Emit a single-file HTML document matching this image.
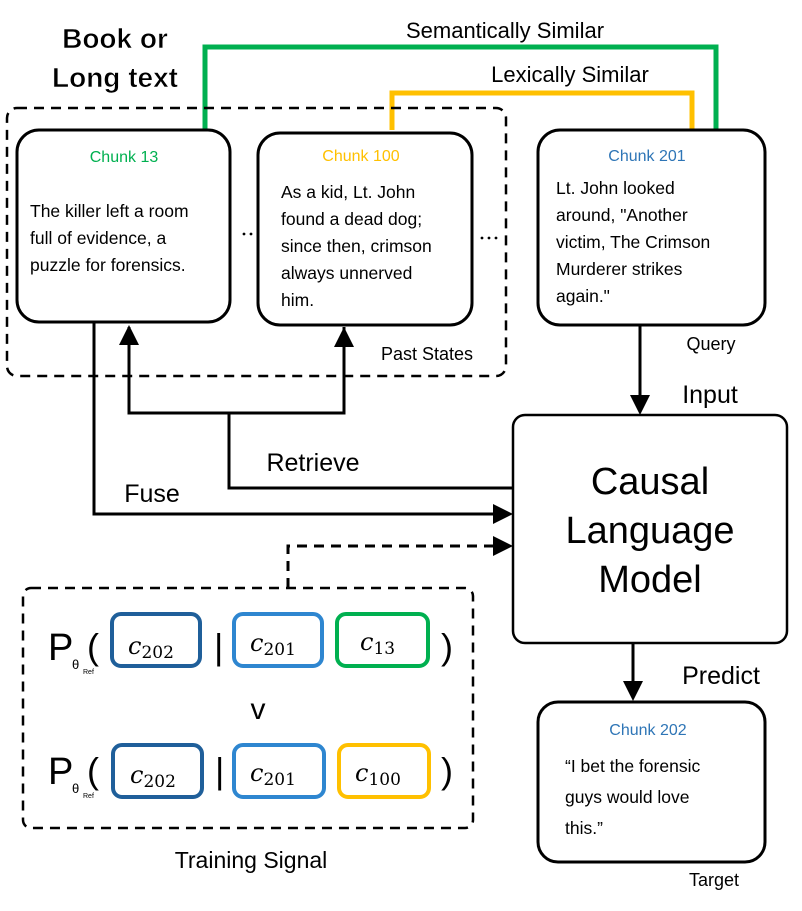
<!DOCTYPE html>
<html><head><meta charset="utf-8"><style>
html,body{margin:0;padding:0;background:#fff;}
svg{display:block;font-family:"Liberation Sans",sans-serif;}
</style></head><body>
<svg width="802" height="911" viewBox="0 0 802 911" xmlns="http://www.w3.org/2000/svg">
<!-- similarity lines -->
<polyline points="205,130 205,47 716,47 716,130" fill="none" stroke="#00b050" stroke-width="5"/>
<polyline points="392,130 392,93 692,93 692,130" fill="none" stroke="#ffc000" stroke-width="5"/>
<text x="505" y="38" font-size="22" text-anchor="middle" fill="#000">Semantically Similar</text>
<text x="570" y="82" font-size="22" text-anchor="middle" fill="#000">Lexically Similar</text>
<text x="115" y="48" font-size="28" text-anchor="middle" font-weight="bold" stroke="#fff" stroke-width="0.6">Book or</text>
<text x="115" y="87" font-size="28" text-anchor="middle" font-weight="bold" stroke="#fff" stroke-width="0.6">Long text</text>
<!-- outer dashed -->
<rect x="7" y="108" width="499" height="268" rx="10" fill="none" stroke="#000" stroke-width="2.5" stroke-dasharray="10,7"/>
<!-- chunk boxes -->
<rect x="17" y="130" width="213" height="192" rx="22" fill="#fff" stroke="#000" stroke-width="3"/>
<text x="124" y="162" font-size="16" fill="#00b050" text-anchor="middle">Chunk 13</text>
<g font-size="17.5"><text x="30" y="217">The killer left a room</text><text x="30" y="244">full of evidence, a</text><text x="30" y="271">puzzle for forensics.</text></g>
<rect x="258" y="133" width="214" height="192" rx="22" fill="#fff" stroke="#000" stroke-width="3"/>
<text x="361" y="161" font-size="16" fill="#ffc000" text-anchor="middle">Chunk 100</text>
<g font-size="17.5"><text x="281" y="198">As a kid, Lt. John</text><text x="281" y="225">found a dead dog;</text><text x="281" y="252">since then, crimson</text><text x="281" y="279">always unnerved</text><text x="281" y="306">him.</text></g>
<g fill="#000"><circle cx="244" cy="234" r="1.4"/><circle cx="251" cy="234" r="1.4"/><circle cx="258" cy="234" r="1.4"/>
<circle cx="482" cy="238" r="1.4"/><circle cx="489" cy="238" r="1.4"/><circle cx="496" cy="238" r="1.4"/></g>
<rect x="538" y="130" width="227" height="195" rx="22" fill="#fff" stroke="#000" stroke-width="3"/>
<text x="647" y="161" font-size="16" fill="#2e75b6" text-anchor="middle">Chunk 201</text>
<g font-size="17.5"><text x="556" y="194">Lt.  John looked</text><text x="556" y="221">around, "Another</text><text x="556" y="248">victim, The Crimson</text><text x="556" y="275">Murderer strikes</text><text x="556" y="302">again."</text></g>
<text x="427" y="360" font-size="18" text-anchor="middle">Past States</text>
<text x="711" y="350" font-size="18" text-anchor="middle">Query</text>
<!-- input arrow -->
<line x1="640" y1="325" x2="640" y2="398" stroke="#000" stroke-width="3"/>
<path d="M630,395 L640,415 L650,395 z"/>
<text x="710" y="403" font-size="25" text-anchor="middle">Input</text>
<!-- LLM -->
<rect x="513" y="415" width="274" height="228" rx="12" fill="#fff" stroke="#000" stroke-width="2.5"/>
<g font-size="38" text-anchor="middle"><text x="650" y="494">Causal</text><text x="650" y="543">Language</text><text x="650" y="592">Model</text></g>
<!-- retrieve -->
<polyline points="129,327 129,413 344,413 344,327" fill="none" stroke="#000" stroke-width="3"/>
<path d="M119,345 L129,325 L139,345 z"/><path d="M334,347 L344,327 L354,347 z"/>
<polyline points="229,413 229,488 513,488" fill="none" stroke="#000" stroke-width="3"/>
<text x="313" y="471" font-size="25" text-anchor="middle">Retrieve</text>
<!-- fuse -->
<polyline points="94,322 94,514 494,514" fill="none" stroke="#000" stroke-width="3"/>
<path d="M493,504 L513,514 L493,524 z"/>
<text x="152" y="502" font-size="25" text-anchor="middle">Fuse</text>
<!-- dashed feedback -->
<polyline points="288,588 288,546 496,546" fill="none" stroke="#000" stroke-width="3" stroke-dasharray="10,7"/>
<path d="M493,536 L513,546 L493,556 z"/>
<!-- training box -->
<rect x="23" y="588" width="450" height="240" rx="8" fill="none" stroke="#000" stroke-width="2.5" stroke-dasharray="10,7"/>
<g font-size="38"><text x="48" y="660">P</text><text x="48" y="784">P</text></g>
<g font-size="13"><text x="72" y="669">θ</text><text x="72" y="793">θ</text></g>
<g font-size="7"><text x="83" y="674">Ref</text><text x="83" y="798">Ref</text></g>
<g font-size="36"><text x="87" y="659">(</text><text x="87" y="783">(</text><text x="441" y="659">)</text><text x="441" y="783">)</text><text x="214" y="659">|</text><text x="215" y="783">|</text></g>
<text x="258" y="719" font-size="30" text-anchor="middle">v</text>
<g fill="#fff" stroke-width="4">
<rect x="112" y="614" width="88" height="52" rx="9" stroke="#1f5f9a"/>
<rect x="234" y="614" width="88" height="52" rx="9" stroke="#2e86d0"/>
<rect x="337" y="614" width="91" height="52" rx="9" stroke="#00b050"/>
<rect x="113" y="745" width="89" height="52" rx="9" stroke="#1f5f9a"/>
<rect x="234" y="745" width="90" height="52" rx="9" stroke="#2e86d0"/>
<rect x="339" y="745" width="90" height="52" rx="9" stroke="#ffc000"/>
</g>
<g font-family="'DejaVu Serif','Liberation Serif',serif" font-size="24" font-style="italic">
<text x="128" y="654">c<tspan font-size="17" font-style="normal" dy="4">202</tspan></text>
<text x="250" y="651">c<tspan font-size="17" font-style="normal" dy="4">201</tspan></text>
<text x="360" y="650">c<tspan font-size="17" font-style="normal" dy="4">13</tspan></text>
<text x="130" y="783">c<tspan font-size="17" font-style="normal" dy="4">202</tspan></text>
<text x="250" y="781">c<tspan font-size="17" font-style="normal" dy="4">201</tspan></text>
<text x="355" y="781">c<tspan font-size="17" font-style="normal" dy="4">100</tspan></text>
</g>
<text x="251" y="868" font-size="23" text-anchor="middle">Training Signal</text>
<!-- predict -->
<line x1="633" y1="643" x2="633" y2="684" stroke="#000" stroke-width="3"/>
<path d="M623,681 L633,701 L643,681 z"/>
<text x="721" y="684" font-size="25" text-anchor="middle">Predict</text>
<rect x="538" y="702" width="227" height="160" rx="20" fill="#fff" stroke="#000" stroke-width="3"/>
<text x="648" y="735" font-size="16" fill="#2e75b6" text-anchor="middle">Chunk 202</text>
<g font-size="17.5"><text x="565" y="772">“I bet the forensic</text><text x="565" y="803">guys  would love</text><text x="565" y="834">this.”</text></g>
<text x="714" y="886" font-size="18" text-anchor="middle">Target</text>
</svg>
</body></html>
